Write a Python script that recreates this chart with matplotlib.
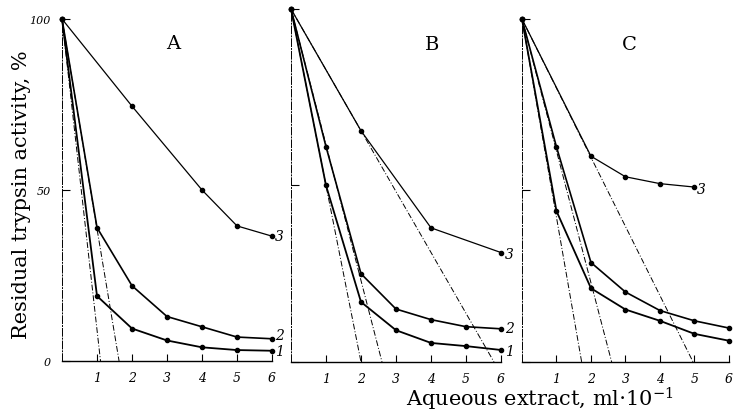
import numpy as np
import matplotlib
matplotlib.use("Agg")
import matplotlib.pyplot as plt

plt.rcParams["font.family"] = ["DejaVu Serif"]
plt.rcParams["mathtext.default"] = "regular"

# Panel A
A_X3 = [0, 2, 4, 5, 6]
A_Y3 = [100, 74.5, 50, 39.5, 36.5]
A_X12 = [0, 1, 2, 3, 4, 5, 6]
A_Y2 = [100, 39, 22, 13, 10, 7, 6.5]
A_Y1 = [100, 19, 9.5, 6, 4, 3.2, 3]
A_EXTRAP = [1.1, 1.63]

# Panel B
B_X3 = [0, 2, 4, 6]
B_Y3 = [100, 65.5, 38, 31]
B_X12 = [0, 1, 2, 3, 4, 5, 6]
B_Y2 = [100, 61, 25, 15, 12, 10, 9.4]
B_Y1 = [100, 50, 17, 9, 5.4, 4.5, 3.4]
B_EXTRAP = [2.0, 2.6, 5.8]

# Panel C
C_X3 = [0, 2, 3, 4, 5]
C_Y3 = [100, 60, 54, 52, 51]
C_X12 = [0, 1, 2, 3, 4, 5, 6]
C_Y2 = [100, 62.7, 29, 20.4, 15, 12, 9.9]
C_Y1 = [100, 44, 21.5, 15.3, 12, 8.2, 6.2]
C_EXTRAP = [1.73, 2.6, 4.96]

X_TICKS = [1, 2, 3, 4, 5, 6]
Y_TICKS = [0, 50, 100]

panels = [
    ("A", [0.0846, 0.1256, 0.2865, 0.8261], A_X3, A_Y3, A_X12, A_Y2, A_Y1, A_EXTRAP,
     (3.17, 93), [(6.2, 36.5, "3"), (6.2, 7.5, "2"), (6.2, 3.0, "1")]),
    ("B", [0.3970, 0.1232, 0.2865, 0.8527], B_X3, B_Y3, B_X12, B_Y2, B_Y1, B_EXTRAP,
     (4.02, 90), [(6.25, 30.5, "3"), (6.25, 9.5, "2"), (6.25, 3.0, "1")]),
    ("C", [0.7121, 0.1232, 0.2824, 0.8285], C_X3, C_Y3, C_X12, C_Y2, C_Y1, C_EXTRAP,
     (3.1, 92.6), [(5.2, 50.5, "3")]),
]

fig = plt.figure(figsize=(7.33, 4.14), dpi=100, facecolor="white")

for name, rect, x3, y3, x12, y2, y1, extrap, title_xy, labels in panels:
    ax = fig.add_axes(rect)
    ax.set_xlim(0, 6)
    ax.set_ylim(0, 100)

    # extrapolation lines from 100 % down to the x axis
    for x_end in extrap:
        ax.plot([0, x_end], [100, 0], color="black", lw=0.7,
                linestyle=(0, (6, 2, 1, 2)), clip_on=False)

    for xs, ys, lw in [(x3, y3, 0.9), (x12, y2, 1.2), (x12, y1, 1.3)]:
        ax.plot(xs, ys, color="black", lw=lw, marker="o", ms=3,
                markerfacecolor="black", clip_on=False)

    ax.text(title_xy[0], title_xy[1], name, fontsize=14, ha="center", va="center")
    for lx, ly, txt in labels:
        ax.text(lx, ly, txt, fontsize=10, style="italic", ha="center", va="center")

    for side in ("top", "right"):
        ax.spines[side].set_visible(False)
    ax.spines["left"].set_linestyle((0, (8, 2, 1, 2)))
    ax.spines["left"].set_linewidth(0.7)
    ax.spines["bottom"].set_linewidth(1.0)

    ax.set_xticks(X_TICKS)
    ax.set_xticklabels([str(t) for t in X_TICKS], fontsize=9, style="italic")
    ax.set_yticks(Y_TICKS)
    ax.tick_params(axis="x", direction="in", length=5, width=0.8, pad=7)
    ax.tick_params(axis="y", direction="in", length=6, width=0.8, pad=8)
    if name == "A":
        ax.set_yticklabels([str(t) for t in Y_TICKS], fontsize=8, style="italic")
    else:
        ax.set_yticklabels([])

fig.text(0.030, 0.53, "Residual trypsin activity, %", rotation=90,
         fontsize=15, ha="center", va="center")
fig.text(0.737, 0.036, r"Aqueous extract, ml$\cdot$10$^{-1}$",
         fontsize=15, ha="center", va="center")

fig.savefig("out.png", dpi=100, facecolor="white")
